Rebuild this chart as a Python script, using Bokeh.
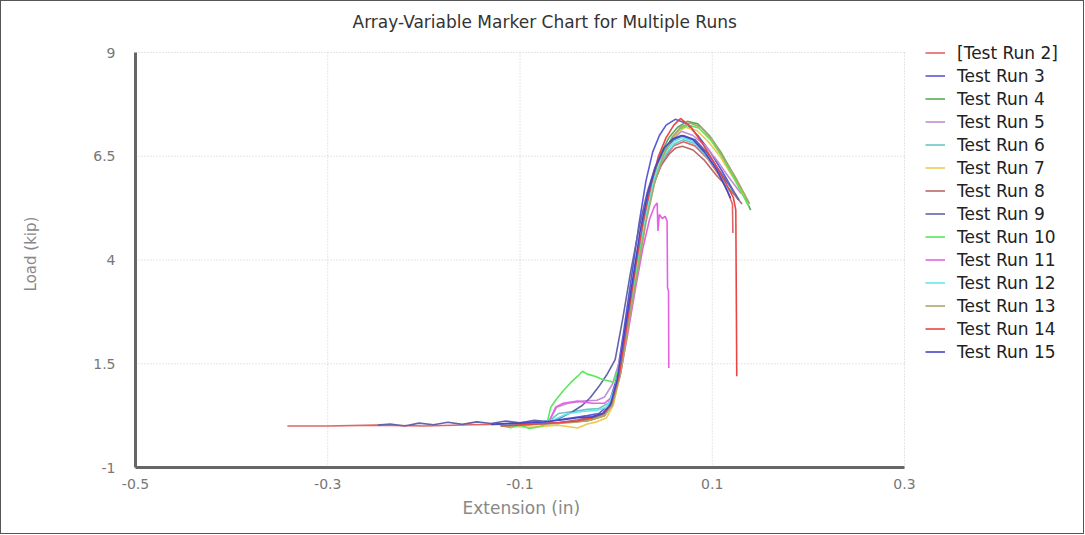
from bokeh.plotting import figure
from bokeh.models import Legend, LegendItem, FixedTicker, Title
from bokeh.embed import file_html
from bokeh.resources import INLINE

# ---------------- data ----------------
run_names = ["[Test Run 2]", "Test Run 3", "Test Run 4", "Test Run 5", "Test Run 6",
             "Test Run 7", "Test Run 8", "Test Run 9", "Test Run 10", "Test Run 11",
             "Test Run 12", "Test Run 13", "Test Run 14", "Test Run 15"]
run_colors = ["#e06464", "#5a5ad6", "#5aaa5a", "#c48cd6", "#6cc6c6", "#f0c850",
              "#b86868", "#6464a8", "#5ae85a", "#e462e4", "#62e8ec", "#a8a86c",
              "#e84646", "#4646c6"]

x_run2 = [-0.342, -0.30, -0.25, -0.20, -0.15, -0.10, -0.06, -0.03, -0.012, -0.004, 0.003, 0.012,
          0.022, 0.031, 0.040, 0.050, 0.060, 0.070, 0.082, 0.095, 0.107, 0.116, 0.121, 0.1215]
y_run2 = [0.0, 0.0, 0.02, 0.0, 0.03, 0.05, 0.08, 0.12, 0.25, 0.6, 1.3, 2.6,
          4.0, 5.1, 5.9, 6.45, 6.75, 6.85, 6.75, 6.45, 6.05, 5.65, 5.35, 4.65]

x_run3 = [-0.125, -0.10, -0.08, -0.06, -0.045, -0.03, -0.018, -0.008, 0.0, 0.008, 0.016, 0.024,
          0.031, 0.038, 0.045, 0.052, 0.0615, 0.072, 0.085, 0.098, 0.11, 0.12, 0.127]
y_run3 = [0.05, 0.08, 0.1, 0.15, 0.2, 0.25, 0.3, 0.5, 1.1, 2.3, 3.6, 4.9,
          5.9, 6.6, 7.0, 7.25, 7.39, 7.3, 7.0, 6.6, 6.15, 5.75, 5.45]

x_run4 = [-0.12, -0.10, -0.08, -0.06, -0.04, -0.025, -0.012, -0.004, 0.004, 0.013, 0.022, 0.030,
          0.038, 0.046, 0.055, 0.064, 0.074, 0.085, 0.097, 0.109, 0.12, 0.13, 0.14]
y_run4 = [0.0, 0.03, 0.05, 0.08, 0.12, 0.18, 0.3, 0.6, 1.4, 2.7, 3.9, 5.0,
          5.9, 6.55, 6.95, 7.2, 7.34, 7.28, 7.0, 6.6, 6.15, 5.7, 5.2]

x_run5 = [-0.12, -0.09, -0.07, -0.062, -0.05, -0.035, -0.02, -0.012, -0.004, 0.004, 0.013, 0.022,
          0.031, 0.039, 0.048, 0.058, 0.068, 0.08, 0.093, 0.105, 0.117, 0.13]
y_run5 = [0.02, 0.06, 0.1, 0.45, 0.55, 0.6, 0.62, 0.7, 1.0, 1.6, 2.8, 4.0,
          5.1, 5.9, 6.5, 6.9, 7.1, 7.0, 6.75, 6.4, 6.0, 5.6]

x_run6 = [-0.12, -0.09, -0.07, -0.06, -0.045, -0.03, -0.018, -0.008, 0.0, 0.008, 0.017, 0.026,
          0.034, 0.043, 0.052, 0.061, 0.07, 0.082, 0.094, 0.106, 0.116, 0.125]
y_run6 = [0.03, 0.06, 0.12, 0.3, 0.35, 0.4, 0.42, 0.55, 1.0, 2.0, 3.3, 4.5,
          5.4, 6.1, 6.55, 6.8, 6.9, 6.8, 6.5, 6.15, 5.85, 5.55]

x_run7 = [-0.12, -0.09, -0.06, -0.04, -0.03, -0.02, -0.01, -0.003, 0.005, 0.014, 0.023, 0.031,
          0.039, 0.048, 0.057, 0.065, 0.072, 0.084, 0.096, 0.108, 0.12, 0.135]
y_run7 = [0.0, -0.03, 0.02, -0.05, 0.05, 0.1, 0.2, 0.5, 1.3, 2.6, 3.9, 5.0,
          5.85, 6.5, 6.9, 7.1, 7.2, 7.12, 6.85, 6.5, 6.05, 5.5]

x_run8 = [-0.12, -0.09, -0.06, -0.04, -0.025, -0.014, -0.006, 0.002, 0.01, 0.019, 0.028, 0.037,
          0.046, 0.055, 0.062, 0.069, 0.08, 0.092, 0.104, 0.116, 0.124, 0.131]
y_run8 = [0.02, 0.04, 0.08, 0.15, 0.22, 0.3, 0.5, 1.1, 2.3, 3.6, 4.8, 5.7,
          6.25, 6.55, 6.7, 6.74, 6.65, 6.4, 6.05, 5.75, 5.55, 5.35]

x_run9 = [-0.248, -0.235, -0.22, -0.205, -0.19, -0.175, -0.16, -0.145, -0.13, -0.115, -0.10,
          -0.085, -0.07, -0.058, -0.045, -0.035, -0.027, -0.018, -0.009, -0.001, 0.007, 0.015,
          0.024, 0.032, 0.04, 0.05, 0.06, 0.07, 0.082, 0.094, 0.106, 0.118, 0.128]
y_run9 = [0.02, 0.05, 0.0, 0.07, 0.03, 0.09, 0.04, 0.1, 0.06, 0.12, 0.08,
          0.14, 0.1, 0.2, 0.35, 0.5, 0.68, 0.95, 1.26, 1.6, 2.6, 3.7,
          4.8, 5.6, 6.2, 6.65, 6.9, 7.0, 6.9, 6.6, 6.2, 5.8, 5.45]

x_run10 = [-0.118, -0.11, -0.10, -0.09, -0.08, -0.072, -0.068, -0.062, -0.055, -0.047, -0.04,
           -0.035, -0.03, -0.022, -0.014, -0.006, -0.003, 0.006, 0.015, 0.024, 0.032, 0.04,
           0.049, 0.058, 0.066, 0.075, 0.086, 0.098, 0.11, 0.122, 0.131, 0.138]
y_run10 = [0.0, -0.04, 0.02, -0.06, -0.02, 0.05, 0.45, 0.65, 0.85, 1.05, 1.2,
           1.32, 1.25, 1.2, 1.12, 1.08, 1.05, 1.6, 2.9, 4.1, 5.1, 5.95,
           6.55, 6.95, 7.15, 7.25, 7.18, 6.9, 6.5, 6.0, 5.6, 5.3]

x_run11 = [-0.12, -0.09, -0.07, -0.063, -0.055, -0.04, -0.025, -0.012, -0.004, 0.004, 0.012, 0.02,
           0.028, 0.035, 0.04, 0.0427, 0.0435, 0.045, 0.048, 0.051, 0.053, 0.0535, 0.0545, 0.0548]
y_run11 = [0.02, 0.05, 0.1, 0.45, 0.55, 0.6, 0.55, 0.55, 0.7, 1.2, 2.2, 3.3,
           4.3, 5.0, 5.3, 5.37, 4.7, 5.1, 5.0, 5.05, 4.94, 3.33, 3.25, 1.4]

x_run12 = [-0.12, -0.09, -0.065, -0.05, -0.035, -0.02, -0.01, -0.002, 0.006, 0.015, 0.024, 0.033,
           0.041, 0.05, 0.06, 0.069, 0.08, 0.092, 0.104, 0.112, 0.117]
y_run12 = [0.01, 0.05, 0.15, 0.3, 0.35, 0.38, 0.45, 0.8, 1.7, 3.0, 4.3, 5.3,
           6.05, 6.55, 6.85, 6.95, 6.85, 6.6, 6.2, 5.9, 5.66]

x_run13 = [-0.12, -0.09, -0.06, -0.04, -0.025, -0.012, -0.004, 0.005, 0.014, 0.023, 0.031, 0.04,
           0.049, 0.058, 0.067, 0.077, 0.088, 0.1, 0.112, 0.124, 0.139]
y_run13 = [0.0, 0.03, 0.06, 0.1, 0.15, 0.25, 0.5, 1.3, 2.6, 3.8, 4.9, 5.85,
           6.5, 6.95, 7.2, 7.3, 7.2, 6.9, 6.45, 6.0, 5.35]

x_run14 = [-0.12, -0.09, -0.06, -0.04, -0.025, -0.013, -0.005, 0.003, 0.011, 0.02, 0.028, 0.036,
           0.044, 0.052, 0.06, 0.067, 0.078, 0.09, 0.102, 0.113, 0.122, 0.1245, 0.1255]
y_run14 = [0.0, 0.04, 0.08, 0.12, 0.2, 0.3, 0.55, 1.2, 2.4, 3.8, 4.9, 5.8,
           6.5, 6.95, 7.25, 7.41, 7.2, 6.8, 6.35, 5.9, 5.5, 5.2, 1.2]

x_run15 = [-0.13, -0.10, -0.075, -0.055, -0.04, -0.025, -0.014, -0.006, 0.001, 0.009, 0.017, 0.025,
           0.033, 0.041, 0.05, 0.059, 0.068, 0.08, 0.092, 0.104, 0.113, 0.119]
y_run15 = [0.04, 0.07, 0.1, 0.15, 0.2, 0.22, 0.3, 0.5, 1.1, 2.3, 3.5, 4.7,
           5.6, 6.25, 6.7, 6.92, 7.0, 6.9, 6.6, 6.2, 5.8, 5.49]

xs_all = [x_run2, x_run3, x_run4, x_run5, x_run6, x_run7, x_run8,
          x_run9, x_run10, x_run11, x_run12, x_run13, x_run14, x_run15]
ys_all = [y_run2, y_run3, y_run4, y_run5, y_run6, y_run7, y_run8,
          y_run9, y_run10, y_run11, y_run12, y_run13, y_run14, y_run15]

x_ticks = [-0.5, -0.3, -0.1, 0.1, 0.3]
x_tick_labels = ["-0.5", "-0.3", "-0.1", "0.1", "0.3"]
y_ticks = [-1, 1.5, 4, 6.5, 9]
y_tick_labels = ["-1", "1.5", "4", "6.5", "9"]

# ---------------- figure ----------------
FONT = "DejaVu Sans"
AXIS_W = 769                # pixels used by the x axis (-0.5 .. 0.3)
AXIS_H = 415                # pixels used by the y axis (-1 .. 9)
EXTRA_R = 178               # frame continues to the right to hold the legend
HEAD = 12                   # empty band above y = 9
x_end = x_ticks[-1] + EXTRA_R * (x_ticks[-1] - x_ticks[0]) / AXIS_W
y_top = y_ticks[-1] + HEAD * (y_ticks[-1] - y_ticks[0]) / AXIS_H

p = figure(frame_width=AXIS_W + EXTRA_R, frame_height=AXIS_H + HEAD,
           output_backend="svg", toolbar_location=None,
           x_range=(x_ticks[0], x_end), y_range=(y_ticks[0], y_top),
           min_border_left=134, min_border_right=1, min_border_top=39, min_border_bottom=66,
           title="Array-Variable Marker Chart for Multiple Runs")
p.styles = {"border": "1px solid #555555"}
p.outline_line_color = None
p.background_fill_color = "white"
p.border_fill_color = "white"

p.title.align = "left"
p.title.offset = 217
p.title.standoff = 17
p.title.text_font = FONT
p.title.text_font_size = "17px"
p.title.text_font_style = "normal"
p.title.text_color = "#333333"

for ax in (p.xaxis[0], p.yaxis[0]):
    ax.axis_line_color = "#666666"
    ax.axis_line_width = 3
    ax.major_tick_line_color = None
    ax.minor_tick_line_color = None
    ax.major_label_text_font = FONT
    ax.major_label_text_font_size = "14px"
    ax.major_label_text_color = "#777777"
    ax.axis_label_text_font = FONT
    ax.axis_label_text_font_style = "normal"
    ax.axis_label_text_color = "#888888"

p.xaxis.bounds = (x_ticks[0], x_ticks[-1])
p.yaxis.bounds = (y_ticks[0], y_ticks[-1])
p.yaxis.axis_label_text_font_size = "15px"
p.xaxis.ticker = FixedTicker(ticks=x_ticks)
p.yaxis.ticker = FixedTicker(ticks=y_ticks)
p.xaxis.major_label_overrides = {t: s for t, s in zip(x_ticks, x_tick_labels)}
p.yaxis.major_label_overrides = {t: s for t, s in zip(y_ticks, y_tick_labels)}
p.xaxis.major_label_standoff = 5
p.yaxis.major_label_standoff = 14
p.yaxis.axis_label_standoff = 50
p.yaxis.axis_label = "Load (kip)"

# x-axis title, centred under the axis line (not under the wider frame)
p.add_layout(Title(text="Extension (in)", align="left", offset=327, standoff=9,
                   text_font=FONT, text_font_size="17px", text_font_style="normal",
                   text_color="#888888"), "below")

# dotted grid, limited to the axes' extent
p.xgrid.visible = False
p.ygrid.visible = False
gx = x_ticks[1:]
p.segment(x0=gx, y0=[y_ticks[0]] * len(gx), x1=gx, y1=[y_ticks[-1]] * len(gx),
          line_color="#cccccc", line_dash="1 2", line_width=1)
gy = y_ticks[1:]
p.segment(x0=[x_ticks[0]] * len(gy), y0=gy, x1=[x_ticks[-1]] * len(gy), y1=gy,
          line_color="#cccccc", line_dash="1 2", line_width=1)

items = []
for name, color, xs, ys in zip(run_names, run_colors, xs_all, ys_all):
    r = p.line(xs, ys, line_color=color, line_width=1.6)
    items.append(LegendItem(label=name, renderers=[r]))

legend = Legend(items=items, location=(790, 105))
legend.border_line_color = None
legend.background_fill_alpha = 0
legend.padding = 0
legend.margin = 0
legend.spacing = 2
legend.glyph_width = 20
legend.glyph_height = 21
legend.label_height = 21
legend.label_standoff = 12
legend.label_text_font = FONT
legend.label_text_font_size = "17px"
legend.label_text_color = "#222222"
p.add_layout(legend, "center")

open("out.html", "w").write(file_html(p, INLINE))
